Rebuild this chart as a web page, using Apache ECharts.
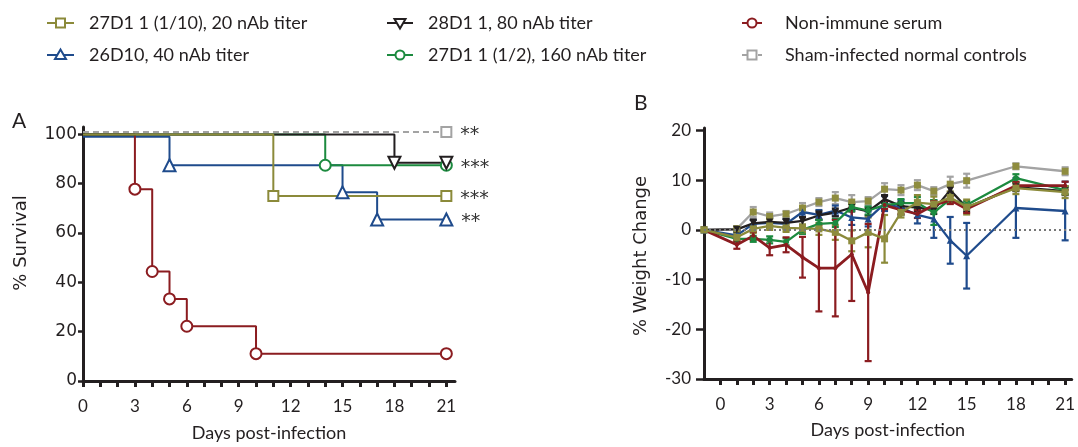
<!DOCTYPE html>
<html><head><meta charset="utf-8">
<script src="https://cdn.jsdelivr.net/npm/echarts@6/dist/echarts.min.js"></script>
<style>html,body{margin:0;padding:0;background:#fff}#c{width:1078px;height:447px}</style>
</head><body><div id="c"></div>
<script>
// ---------- Panel A: Kaplan-Meier survival ----------
const daysRed = [0, 3, 4, 5, 6, 10, 21];
const survRed = [100, 77.8, 44.4, 33.3, 22.2, 11.1, 11.1];
const daysBlue = [0, 5, 15, 17, 21];
const survBlue = [99, 87.5, 76.5, 65.5, 65.5];
const daysOlive = [0, 11, 21];
const survOlive = [100, 75, 75];
const daysBlack = [0, 18, 21];
const survBlack = [100, 88.5, 88.5];
const daysGreen = [0, 14, 21];
const survGreen = [100, 87.5, 87.5];
const daysSham = [0, 21];
const survSham = [101, 101];
const sigSham = '**', sigGreen = '***', sigOlive = '***', sigBlue = '**';

// ---------- Panel B: weight change ----------
const weightDays = [-1, 1, 2, 3, 4, 5, 6, 7, 8, 9, 10, 11, 12, 13, 14, 15, 18, 21];
const wSham  = [0, 0.2, 3.6, 2.7, 3.2, 4.4, 5.6, 6.4, 5.6, 5.8, 8.2, 8.0, 9.0, 7.8, 9.2, 9.9, 12.8, 11.8];
const eSham  = [0, 0.5, 1.0, 0.8, 0.6, 1.0, 0.8, 1.2, 1.4, 0.8, 1.2, 1.0, 1.0, 0.8, 1.5, 1.4, 0.6, 0.8];
const wBlack = [0, 0.1, 1.3, 1.6, 1.4, 1.8, 2.9, 3.5, 4.5, 3.7, 6.2, 4.8, 4.5, 4.0, 8.0, 4.5, 8.6, 7.8];
const eBlack = [0, 0.6, 0.8, 0.8, 0.8, 0.8, 0.8, 0.8, 0.8, 0.8, 0.8, 0.8, 0.8, 0.8, 0.8, 0.8, 0.8, 0.8];
const wBlue  = [0, -1.1, 1.2, 1.4, 1.2, 3.6, 3.0, 3.9, 2.5, 2.2, 5.3, 4.5, 3.0, 2.2, -2.1, -5.2, 4.4, 3.8];
const eBlue  = [0, 0.8, 0.8, 1.0, 1.0, 1.0, 1.0, 1.0, 1.5, 1.5, 1.5, 1.5, 1.7, 3.8, 4.7, 6.6, 6.0, 5.9];
const wGreen = [0, -1.8, -1.8, -2.0, -2.4, 0.0, 1.2, 1.4, 4.6, 3.9, 5.0, 5.4, 5.4, 3.5, 6.2, 5.0, 10.4, 8.0];
const eGreen = [0, 0.6, 0.6, 0.7, 0.7, 0.8, 0.8, 0.8, 0.8, 0.8, 0.8, 0.8, 1.2, 2.5, 0.8, 0.8, 0.8, 0.8];
const wOlive = [0, -1.5, 0.2, 0.8, 0.4, 0.3, 0.2, -0.5, -2.2, -0.5, -1.8, 3.5, 5.5, 5.2, 6.5, 4.6, 8.4, 7.6];
const eOlive = [0, 0.6, 0.8, 0.8, 0.8, 0.8, 1.2, 1.5, 2.1, 3.0, 4.8, 1.0, 1.5, 1.5, 1.2, 1.5, 1.2, 1.2];
const wRed   = [0, -3.0, -1.2, -3.6, -3.0, -5.5, -7.7, -7.7, -4.9, -12.6, 5.0, 4.0, 3.2, 5.0, 6.0, 4.2, 8.9, 8.9];
const eRed   = [0, 0.8, 0.8, 1.5, 1.5, 4.1, 8.7, 9.7, 9.4, 13.8, 0.8, 0.8, 0.8, 0.8, 0.8, 0.8, 0.8, 0.8];

// ---------- ticks / labels ----------
const dayTicks = [0,1,2,3,4,5,6,7,8,9,10,11,12,13,14,15,16,17,18,19,20,21];
const dayLabels = [0, 3, 6, 9, 12, 15, 18, 21];
const survTicks = [0, 20, 40, 60, 80, 100];
const weightTicks = [-30, -20, -10, 0, 10, 20];

const names = ['27D1 1 (1/10), 20 nAb titer', '26D10, 40 nAb titer', '28D1 1, 80 nAb titer',
  '27D1 1 (1/2), 160 nAb titer', 'Non-immune serum', 'Sham-infected normal controls'];

const C = {olive:'#8b8a3a', blue:'#1f4b8c', black:'#231f20', green:'#1c8a3f', red:'#8b1c20', gray:'#a3a3a3', sq:'#8e8c3e'};
const AX = '#231f20';
const FONT = 'Lato';

function kmData(days, vals) {
  return days.map((d, i) => i === 0 ? {value: [d, vals[i]], symbol: 'none'} : [d, vals[i]]);
}
function kmSeries(name, days, vals, color, symbol, rotate, sig, dashed) {
  const data = kmData(days, vals);
  if (sig) {
    const last = data.length - 1;
    data[last] = {value: data[last], label: {show: true, position: 'right', distance: 8,
      formatter: sig, color: '#333', fontSize: 19, fontFamily: 'DejaVu Sans', offset: [0, 3]}};
  }
  return {
    type: 'line', name, xAxisIndex: 0, yAxisIndex: 0, step: 'end',
    data, symbol, symbolSize: symbol === 'emptyCircle' ? 11 : (symbol === 'emptyRect' ? 10 : 12),
    symbolRotate: rotate || 0, symbolKeepAspect: true,
    itemStyle: {color, borderColor: color, borderWidth: 2},
    lineStyle: {color, width: 2, type: dashed ? [6, 4] : 'solid'},
    emphasis: {disabled: true}, animation: false, z: 3, clip: false
  };
}
function wSeries(name, vals, color, symbol, rotate, symColor, size, width) {
  return {
    type: 'line', name: name + ' (B)', xAxisIndex: 1, yAxisIndex: 1,
    data: weightDays.map((d, i) => [d, vals[i]]),
    symbol, symbolSize: size || 6, symbolRotate: rotate || 0,
    itemStyle: {color: symColor || color},
    lineStyle: {color, width: width || 2.3},
    emphasis: {disabled: true}, animation: false, z: 4
  };
}
function errSeries(vals, errs, color) {
  const data = [];
  weightDays.forEach((d, i) => { if (errs[i] > 0) data.push([d, vals[i] - errs[i], vals[i] + errs[i]]); });
  return {
    type: 'custom', xAxisIndex: 1, yAxisIndex: 1, data, animation: false, z: 3,
    encode: {x: 0, y: [1, 2]},
    renderItem: function (params, api) {
      const x = api.value(0);
      const lo = api.coord([x, api.value(1)]);
      const hi = api.coord([x, api.value(2)]);
      const w = 3.5;
      const st = {stroke: color, lineWidth: 2.2};
      return {type: 'group', children: [
        {type: 'line', shape: {x1: lo[0], y1: lo[1], x2: hi[0], y2: hi[1]}, style: st},
        {type: 'line', shape: {x1: lo[0] - w, y1: lo[1], x2: lo[0] + w, y2: lo[1]}, style: st},
        {type: 'line', shape: {x1: hi[0] - w, y1: hi[1], x2: hi[0] + w, y2: hi[1]}, style: st}
      ]};
    }
  };
}

// legend drawn with graphics
function legendItem(name, color, sym, x0, w, yc, textX, dashed) {
  const cx = x0 + w / 2;
  const kids = [];
  kids.push({type: 'line', shape: {x1: x0, y1: yc, x2: x0 + w, y2: yc},
    style: {stroke: color, lineWidth: 2, lineDash: dashed ? [5, 3] : null}});
  const st = {fill: '#fff', stroke: color, lineWidth: 2};
  if (sym === 'square') kids.push({type: 'rect', shape: {x: cx - 4.5, y: yc - 4.5, width: 9, height: 9}, style: st});
  if (sym === 'circle') kids.push({type: 'circle', shape: {cx, cy: yc, r: 4.5}, style: st});
  if (sym === 'tri') kids.push({type: 'polygon', shape: {points: [[cx, yc - 5.5], [cx + 5.5, yc + 4], [cx - 5.5, yc + 4]]}, style: st});
  if (sym === 'itri') kids.push({type: 'polygon', shape: {points: [[cx, yc + 5.5], [cx + 5.5, yc - 4], [cx - 5.5, yc - 4]]}, style: st});
  kids.push({type: 'text', x: textX, y: yc, style: {text: name, fill: '#231f20', font: '18px ' + FONT, textVerticalAlign: 'middle'}});
  return {type: 'group', children: kids};
}

const chart = echarts.init(document.getElementById('c'), null, {renderer: 'canvas'});

const xAxisCommon = {
  type: 'value',
  axisLine: {show: true, onZero: false, lineStyle: {color: AX, width: 3}},
  axisTick: {show: true, customValues: dayTicks, length: 6, lineStyle: {color: AX, width: 3}},
  axisLabel: {customValues: dayLabels, color: '#231f20', fontSize: 17, fontFamily: FONT, margin: 17},
  splitLine: {show: false},
  nameLocation: 'middle', nameTextStyle: {fontSize: 18, fontFamily: FONT, color: '#231f20'}
};

chart.setOption({
  animation: false,
  grid: [
    {left: 83, right: 623, top: 127, bottom: 66},
    {left: 704, right: 1, top: 128, bottom: 68}
  ],
  xAxis: [
    Object.assign({}, xAxisCommon, {gridIndex: 0, min: 0, max: 21.5, name: 'Days post-infection', nameGap: 43}),
    Object.assign({}, xAxisCommon, {gridIndex: 1, min: -1, max: 21.4, name: 'Days post-infection', nameGap: 42})
  ],
  yAxis: [
    {type: 'value', gridIndex: 0, min: 0, max: 103,
      axisLine: {show: true, lineStyle: {color: AX, width: 3}},
      axisTick: {show: true, customValues: survTicks, length: 5, lineStyle: {color: AX, width: 2.5}},
      axisLabel: {customValues: survTicks, color: '#231f20', fontSize: 17, fontFamily: 'DejaVu Sans', margin: 6},
      splitLine: {show: false}},
    {type: 'value', gridIndex: 1, min: -30, max: 20.5,
      axisLine: {show: true, onZero: false, lineStyle: {color: AX, width: 3}},
      axisTick: {show: true, customValues: weightTicks, length: 8, lineStyle: {color: AX, width: 2.5}},
      axisLabel: {customValues: weightTicks, color: '#231f20', fontSize: 17, fontFamily: FONT, margin: 13},
      splitLine: {show: false}}
  ],
  graphic: [
    legendItem(names[0], C.olive, 'square', 47, 27, 23, 89),
    legendItem(names[1], C.blue, 'tri', 47, 27, 55, 89),
    legendItem(names[2], C.black, 'itri', 387, 26, 23, 428),
    legendItem(names[3], C.green, 'circle', 387, 26, 55, 428),
    legendItem(names[4], C.red, 'circle', 742, 20, 23, 785),
    legendItem(names[5], C.gray, 'square', 742, 20, 55, 785, true),
    {type: 'text', x: 12, y: 111, style: {text: 'A', font: '21px ' + FONT, fill: '#231f20'}},
    {type: 'text', x: 634, y: 93, style: {text: 'B', font: '21px ' + FONT, fill: '#231f20'}},
    {type: 'text', x: 21, y: 243, rotation: Math.PI / 2,
      style: {text: '% Survival', font: '18px DejaVu Sans', fill: '#231f20', textAlign: 'center', textVerticalAlign: 'middle'}},
    {type: 'text', x: 641, y: 256, rotation: Math.PI / 2,
      style: {text: '% Weight Change', font: '18px DejaVu Sans', fill: '#231f20', textAlign: 'center', textVerticalAlign: 'middle'}}
  ],
  series: [
    kmSeries(names[5], daysSham, survSham, C.gray, 'emptyRect', 0, sigSham, true),
    kmSeries(names[1], daysBlue, survBlue, C.blue, 'emptyTriangle', 0, sigBlue),
    kmSeries(names[4], daysRed, survRed, C.red, 'emptyCircle', 0, null),
    kmSeries(names[3], daysGreen, survGreen, C.green, 'emptyCircle', 0, sigGreen),
    kmSeries(names[2], daysBlack, survBlack, C.black, 'emptyTriangle', 180, null),
    kmSeries(names[0], daysOlive, survOlive, C.olive, 'emptyRect', 0, sigOlive),

    errSeries(wSham, eSham, C.gray),
    errSeries(wBlue, eBlue, C.blue),
    errSeries(wBlack, eBlack, C.black),
    errSeries(wGreen, eGreen, C.green),
    errSeries(wOlive, eOlive, C.olive),
    errSeries(wRed, eRed, C.red),
    Object.assign(wSeries(names[5], wSham, C.gray, 'rect', 0, C.sq, 7), {
      markLine: {silent: true, symbol: 'none', animation: false, label: {show: false},
        lineStyle: {color: '#777', type: [2, 3], width: 2}, data: [{yAxis: 0}]}
    }),
    wSeries(names[1], wBlue, C.blue, 'triangle', 0, null, 7),
    wSeries(names[2], wBlack, C.black, 'triangle', 180, null, 7),
    wSeries(names[3], wGreen, C.green, 'circle', 0, null, 6),
    wSeries(names[4], wRed, C.red, 'circle', 0, null, 4, 2.8),
    wSeries(names[0], wOlive, C.olive, 'rect', 0, C.sq, 7)
  ]
});
</script></body></html>
